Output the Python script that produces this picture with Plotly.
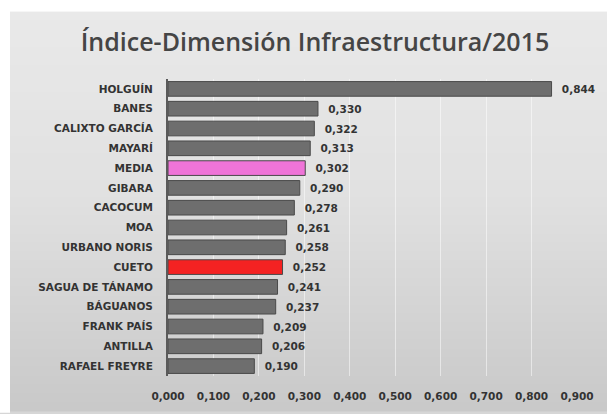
import plotly.graph_objects as go

categories = ["HOLGUÍN", "BANES", "CALIXTO GARCÍA", "MAYARÍ", "MEDIA", "GIBARA", "CACOCUM",
              "MOA", "URBANO NORIS", "CUETO", "SAGUA DE TÁNAMO", "BÁGUANOS", "FRANK PAÍS",
              "ANTILLA", "RAFAEL FREYRE"]
values = [0.844, 0.330, 0.322, 0.313, 0.302, 0.290, 0.278, 0.261, 0.258, 0.252, 0.241,
          0.237, 0.209, 0.206, 0.190]
tick_vals = [0.0, 0.1, 0.2, 0.3, 0.4, 0.5, 0.6, 0.7, 0.8, 0.9]

W, H = 607, 414
L, R, T, B = 168, 30, 79, 35
pw = W - L - R
ph = H - T - B

colors = []
for c in categories:
    if c == "MEDIA":
        colors.append("#ef74d8")
    elif c == "CUETO":
        colors.append("#f42222")
    else:
        colors.append("#6e6e6e")

texts = ["  " + f"{v:.3f}".replace(".", ",") for v in values]

lab_font = dict(family="DejaVu Sans", size=10.5, color="#333333", weight="bold")

fig = go.Figure()
fig.add_trace(go.Bar(
    x=values, y=categories, orientation="h",
    marker=dict(color=colors, line=dict(color="#4a4a4a", width=1)),
    text=texts, textposition="outside", cliponaxis=False,
    textfont=dict(family="DejaVu Sans", size=10.5, color="#333333", weight="bold"),
    width=0.74, hoverinfo="skip",
))


def px_to_paper_x(px):
    return (px - L) / pw


def px_to_paper_y(py):
    return (H - B - py) / ph


# decorative vertical gradient background (light grey to darker grey), in bands
top_px, left_px = 11, 10
n_bands = 45
band_h = (H - top_px) / n_bands
for i in range(n_bands):
    t = (i + 0.5) / n_bands
    if t < 0.45:
        g = 233 - (233 - 225) * t / 0.45
    else:
        g = 225 - (225 - 200) * (t - 0.45) / 0.55
    g = int(round(g))
    y0 = top_px + i * band_h
    y1 = y0 + band_h + 0.8
    fig.add_shape(type="rect", xref="paper", yref="paper", layer="below",
                  x0=px_to_paper_x(left_px), x1=px_to_paper_x(W + 2),
                  y0=px_to_paper_y(min(y1, H + 2)), y1=px_to_paper_y(y0),
                  fillcolor=f"rgb({g},{g},{g})", line=dict(width=0))

# white frame on top and left
fig.add_shape(type="rect", xref="paper", yref="paper", layer="below",
              x0=px_to_paper_x(-2), x1=px_to_paper_x(W + 2),
              y0=px_to_paper_y(top_px), y1=px_to_paper_y(-2),
              fillcolor="white", line=dict(width=0))
fig.add_shape(type="rect", xref="paper", yref="paper", layer="below",
              x0=px_to_paper_x(-2), x1=px_to_paper_x(left_px),
              y0=px_to_paper_y(H + 2), y1=px_to_paper_y(-2),
              fillcolor="white", line=dict(width=0))

fig.update_layout(
    width=W, height=H,
    margin=dict(l=L, r=R, t=T, b=B, pad=0),
    paper_bgcolor="#d6d6d6",
    plot_bgcolor="rgba(0,0,0,0)",
    separators=",.",
    showlegend=False,
    title=dict(text="Índice-Dimensión Infraestructura/2015", x=315 / W, xanchor="center",
               y=1 - 42 / H, yanchor="middle",
               font=dict(family="Open Sans", size=25, color="#454545", weight=600)),
    xaxis=dict(range=[0, 0.9], tickvals=tick_vals, tickformat=".3f",
               showgrid=True, gridcolor="rgba(255,255,255,0.5)", gridwidth=1,
               zeroline=False, showline=False, ticks="",
               ticklabelstandoff=12, tickfont=lab_font),
    yaxis=dict(categoryorder="array", categoryarray=categories, autorange="reversed",
               showline=True, linecolor="#5a5a5a", linewidth=2, ticks="",
               ticklabelstandoff=11, showgrid=False,
               tickfont=dict(family="DejaVu Sans", size=10.5, color="#333333", weight="bold")),
)

fig.write_html(
    "out.html", config={"displayModeBar": False},
    post_script=("document.body.style.margin='0';"
                 "document.body.style.overflow='hidden';"
                 "document.documentElement.style.overflow='hidden';"))
